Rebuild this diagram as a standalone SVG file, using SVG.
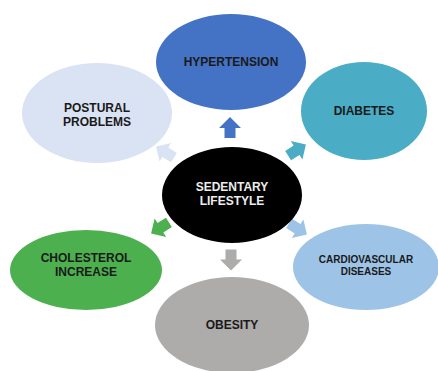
<svg xmlns="http://www.w3.org/2000/svg" width="438" height="371" viewBox="0 0 438 371">
<style>
text{font-family:"Liberation Sans",Arial,sans-serif;font-weight:bold;font-size:12px;text-anchor:middle;fill:#1a1a1a}
.w{fill:#ececec}
.sm{font-size:10px}
</style>
<defs>
<path id="arr" d="M0,-10.5 L11,0.5 L5.5,0.5 L5.5,10.5 L-5.5,10.5 L-5.5,0.5 L-11,0.5 Z"/>
</defs>
<rect width="438" height="371" fill="#fff"/>
<g id="connectors">
<use href="#arr" fill="#4472C4" transform="translate(230,127.5)"/>
<use href="#arr" fill="#4BACC6" transform="translate(297,150) rotate(58)"/>
<use href="#arr" fill="#9DC3E6" transform="translate(298,229) rotate(122)"/>
<use href="#arr" fill="#AEABAB" transform="translate(231,260) rotate(180)"/>
<use href="#arr" fill="#4DB04F" transform="translate(160,228) rotate(238)"/>
<use href="#arr" fill="#DAE3F3" transform="translate(165,152) rotate(302)"/>
</g>
<g id="hypertension">
<ellipse cx="231" cy="62" rx="75" ry="48" fill="#4472C4"/>
<text x="231" y="66">HYPERTENSION</text>
</g>
<g id="diabetes">
<ellipse cx="364" cy="111" rx="63" ry="49" fill="#4BACC6"/>
<text x="364" y="115">DIABETES</text>
</g>
<g id="postural">
<ellipse cx="97" cy="113" rx="75" ry="50" fill="#DAE3F3"/>
<text x="97" y="112">POSTURAL</text>
<text x="97" y="126">PROBLEMS</text>
</g>
<g id="cardiovascular">
<ellipse cx="366" cy="267" rx="73" ry="43" fill="#9DC3E6"/>
<text class="sm" x="366" y="263">CARDIOVASCULAR</text>
<text class="sm" x="366" y="275">DISEASES</text>
</g>
<g id="cholesterol">
<ellipse cx="86" cy="270" rx="76" ry="40" fill="#4DB04F"/>
<text x="86" y="262">CHOLESTEROL</text>
<text x="86" y="276">INCREASE</text>
</g>
<g id="obesity">
<ellipse cx="232" cy="325" rx="77" ry="48" fill="#AEABAB"/>
<text x="232" y="329">OBESITY</text>
</g>
<g id="sedentary">
<ellipse cx="232" cy="195" rx="70" ry="48" fill="#000"/>
<text class="w" x="232" y="191">SEDENTARY</text>
<text class="w" x="232" y="205">LIFESTYLE</text>
</g>
</svg>
